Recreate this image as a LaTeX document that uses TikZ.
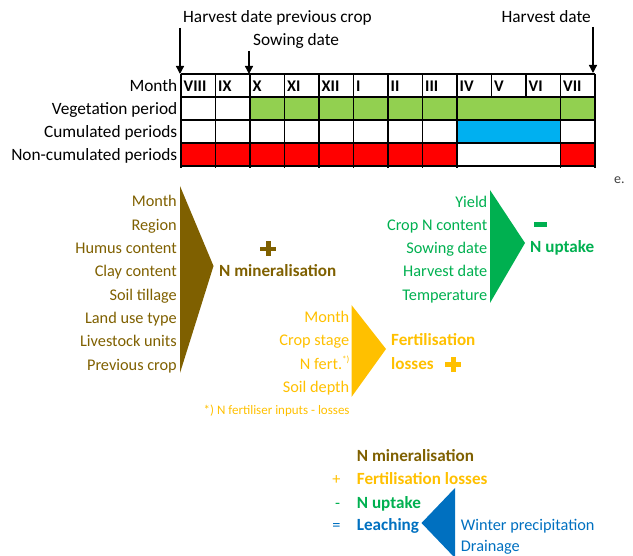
\documentclass[tikz,border=0pt]{standalone}
\usepackage{fontspec}
\setmainfont{Carlito}
\usetikzlibrary{arrows.meta}
\definecolor{veg}{HTML}{92D050}
\definecolor{cum}{HTML}{00B0F0}
\definecolor{noncum}{HTML}{FF0000}
\definecolor{minbrown}{HTML}{7F6000}
\definecolor{fertgold}{HTML}{FFC000}
\definecolor{upgreen}{HTML}{00B050}
\definecolor{leachblue}{HTML}{0070C0}
\begin{document}
\begin{tikzpicture}[x=1pt,y=-1pt,
  txt/.style={inner sep=0pt, font=\fontsize{16.3}{18}\selectfont},
  toptxt/.style={inner sep=0pt, font=\fontsize{17.3}{19}\selectfont},
  btxt/.style={inner sep=0pt, font=\fontsize{16.3}{18}\selectfont\bfseries},
  rtxt/.style={inner sep=0pt, font=\fontsize{17.1}{19}\selectfont\bfseries},
  gridline/.style={line width=1.2pt, black},
  pointer/.style={-{Triangle[width=8pt,length=8pt]}, line width=1.3pt, black}]
\useasboundingbox (0,0) rectangle (633,556);

% ---- table fills
\fill[veg] (250,97) rectangle (595,120);
\fill[cum] (457,120) rectangle (560.5,143);
\fill[noncum] (181,143) rectangle (457,166);
\fill[noncum] (560.5,143) rectangle (595,166);

% ---- table grid
\foreach \yy in {74,97,120,143,166} \draw[gridline] (181,\yy) -- (595,\yy);
\foreach \xx in {181,215.5,250,284.5,319,353.5,388,422.5,457,560.5,595}
  \draw[gridline] (\xx,74) -- (\xx,168);
\foreach \xx in {491.5,526} \draw[gridline] (\xx,74) -- (\xx,97);

% ---- month headers
\foreach \lab [count=\i from 0] in {VIII,IX,X,XI,XII,I,II,III,IV,V,VI,VII}{
  \pgfmathsetmacro\cx{181+34.5*\i+2.5}
  \node[btxt, anchor=base west] (mon\i) at (\cx,91.7) {\lab};
}

% ---- row labels
\node[toptxt, anchor=base east] (rmonth) at (177.5,91.7) {Month};
\node[toptxt, anchor=base east] (rveg) at (177.5,114.7) {Vegetation period};
\node[toptxt, anchor=base east] (rcum) at (177.5,137.7) {Cumulated periods};
\node[toptxt, anchor=base east] (rnon) at (177.5,160.7) {Non-cumulated periods};

% ---- top labels and pointers
\node[toptxt, anchor=base west] (hprev) at (183,23) {Harvest date previous crop};
\node[toptxt, anchor=base west] (sow) at (253,45.5) {Sowing date};
\node[toptxt, anchor=base east] (harv) at (591,23) {Harvest date};
\coordinate (p1s) at (180,28);   \coordinate (p1e) at (180,74);
\coordinate (p2s) at (249,51);   \coordinate (p2e) at (249,74);
\coordinate (p3s) at (593,27);   \coordinate (p3e) at (593,73);
\draw[pointer] (p1s) -- (p1e);
\draw[pointer] (p2s) -- (p2e);
\draw[pointer] (p3s) -- (p3e);

% ---- stray text
\node[inner sep=0pt, anchor=base west, font=\fontsize{14}{14}\selectfont, text=black!75] (stray) at (614,184) {e.};

% ---- N mineralisation block
\fill[minbrown] (180,186) -- (213.5,266) -- (180,373) -- cycle;
\foreach \lab [count=\i from 0] in {Month,Region,Humus content,Clay content,Soil tillage,Land use type,Livestock units,Previous crop}{
  \pgfmathsetmacro\by{207+23.3*\i}
  \node[txt, text=minbrown, anchor=base east] (min\i) at (177,\by) {\lab};
}
% plus shape
\fill[minbrown] (260.3,246.8) rectangle (276.3,251.3);
\fill[minbrown] (266.05,241.5) rectangle (270.55,256.5);
\node[rtxt, text=minbrown, anchor=base west] (minres) at (219,276.7) {N mineralisation};

% ---- N uptake block
\fill[upgreen] (490,190) -- (525,243) -- (490,303) -- cycle;
\foreach \lab [count=\i from 0] in {Yield,Crop N content,Sowing date,Harvest date,Temperature}{
  \pgfmathsetmacro\by{207.3+23.2*\i}
  \node[txt, text=upgreen, anchor=base east] (up\i) at (487.5,\by) {\lab};
}
\fill[upgreen] (533.5,222.3) rectangle (546.5,227);
\node[rtxt, text=upgreen, anchor=base west] (upres) at (530,252.7) {N uptake};

% ---- Fertilisation losses block
\fill[fertgold] (351.5,305) -- (386,349) -- (351.5,397) -- cycle;
\node[txt, text=fertgold, anchor=base east] (f0) at (349.5,322.7) {Month};
\node[txt, text=fertgold, anchor=base east] (f1) at (349.5,346) {Crop stage};
\node[txt, text=fertgold, anchor=base east] (f2) at (349.5,369.3) {N fert.\raisebox{0.9ex}{\fontsize{9}{9}\selectfont *)}};
\node[txt, text=fertgold, anchor=base east] (f3) at (349.5,392.6) {Soil depth};
\node[inner sep=0pt, text=fertgold, anchor=base west, font=\fontsize{13}{14}\selectfont] (fnote) at (203.5,415) {*) N fertiliser inputs - losses};
\node[rtxt, text=fertgold, anchor=base west] (fres1) at (391,346) {Fertilisation};
\node[rtxt, text=fertgold, anchor=base west] (fres2) at (391,369.3) {losses};
% plus shape
\fill[fertgold] (445.4,362.2) rectangle (461.4,366.7);
\fill[fertgold] (451.15,357) rectangle (455.65,372);

% ---- summary
\node[rtxt, text=minbrown, anchor=base west] (s1) at (356.7,461.7) {N mineralisation};
\node[txt, text=fertgold, anchor=base] (o2) at (336.5,485) {+};
\node[rtxt, text=fertgold, anchor=base west] (s2) at (356.7,485) {Fertilisation losses};
\node[txt, text=upgreen, anchor=base] (o3) at (337.5,508.3) {-};
\node[rtxt, text=upgreen, anchor=base west] (s3) at (356.7,508.3) {N uptake};
\node[txt, text=leachblue, anchor=base] (o4) at (336.5,530.7) {=};
\node[rtxt, text=leachblue, anchor=base west] (s4) at (356.7,530.7) {Leaching};

% ---- leaching block
\fill[leachblue] (455,488) -- (421.5,523) -- (455,558) -- cycle;
\node[txt, text=leachblue, anchor=base west] (l1) at (460.7,530.7) {Winter precipitation};
\node[txt, text=leachblue, anchor=base west] (l2) at (460.7,551.5) {Drainage};
\end{tikzpicture}
\end{document}
